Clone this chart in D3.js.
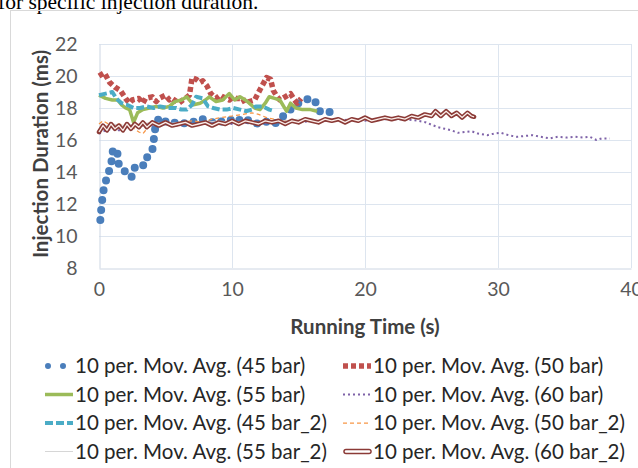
<!DOCTYPE html>
<html>
<head>
<meta charset="utf-8">
<script src="https://cdn.jsdelivr.net/npm/d3@7"></script>
<style>
  body { margin: 0; background: #fff; }
  svg { display: block; }
</style>
</head>
<body>
<div id="chart"></div>
<script>
// series names, in Excel drawing order
var seriesNames = [
    "10 per. Mov. Avg. (45 bar)", "10 per. Mov. Avg. (50 bar)",
    "10 per. Mov. Avg. (55 bar)", "10 per. Mov. Avg. (60 bar)",
    "10 per. Mov. Avg. (45 bar_2)", "10 per. Mov. Avg. (50 bar_2)",
    "10 per. Mov. Avg. (55 bar_2)", "10 per. Mov. Avg. (60 bar_2)"
];

var xTicks = [0, 10, 20, 30, 40];
var yTicks = [8, 10, 12, 14, 16, 18, 20, 22];

// [running time (s), injection duration (ms)]
var bar45 = [[0.1,11.0],[0.2,12.0],[0.35,12.9],[0.6,13.7],[0.9,14.4],[1.05,15.4],[1.35,15.4],[1.5,14.4],
    [1.9,14.1],[2.2,13.7],[2.5,13.7],[2.7,14.3],[3.1,14.5],[3.4,14.4],[3.6,14.9],[3.9,15.2],[4.1,15.6],
    [4.15,16.5],[4.5,17.4],[4.9,17.2],[5.3,17.0],[5.8,17.1],[6.3,17.0],[6.8,17.2],[7.3,17.1],[7.8,17.3],
    [8.3,17.2],[8.8,17.0],[9.3,17.2],[9.8,17.3],[10.3,17.1],[10.8,17.4],[11.3,17.2],[11.8,17.0],[12.3,17.2],
    [12.8,17.1],[13.2,17.0],[13.6,17.3],[14.0,17.6],[14.4,17.9],[15.0,18.3],[15.5,18.5],[15.9,18.6],
    [16.2,18.5],[16.6,17.8],[17.0,17.7],[17.6,17.8]];

var bar50 = [[0,20.0],[0.4,20.2],[0.8,19.6],[1.2,19.3],[1.6,19.1],[2.0,18.6],[2.3,18.3],[2.5,18.5],[3.0,18.6],
    [3.3,18.3],[3.5,18.6],[4.0,18.7],[4.3,18.4],[4.5,18.6],[5.0,18.8],[5.3,18.5],[5.5,18.6],[6.0,18.3],
    [6.3,18.5],[6.5,18.6],[6.8,18.8],[7.0,19.9],[7.3,19.8],[7.6,19.6],[7.8,19.7],[8.1,19.4],[8.4,18.9],
    [8.8,18.6],[9.1,18.8],[9.3,18.7],[9.8,18.5],[10.1,18.7],[10.3,18.6],[10.8,18.6],[11.0,18.3],
    [11.3,18.4],[11.7,18.5],[12.2,19.3],[12.6,19.9],[12.9,19.8],[13.1,19.1],[13.4,18.7],[13.6,18.5],
    [14.0,18.7],[14.4,18.9],[14.7,18.5],[14.9,18.3],[15.2,18.6]];

var bar55 = [[0,18.8],[0.5,18.6],[1.0,18.5],[1.4,18.5],[1.7,18.2],[2.0,18.0],[2.3,17.9],[2.6,17.1],
    [2.9,17.7],[3.3,17.9],[3.8,18.0],[4.3,18.1],[4.8,18.0],[5.3,18.1],[5.7,18.4],[6.2,18.5],[6.6,18.7],
    [7.1,18.2],[7.6,18.3],[8.0,18.5],[8.3,18.7],[8.8,18.4],[9.3,18.5],[9.8,18.9],[10.2,18.5],[10.6,18.7],
    [11.0,18.5],[11.3,18.3],[11.7,18.0],[12.1,17.9],[12.5,18.3],[12.8,18.7],[13.2,18.6],[13.6,18.5],
    [14.1,17.8],[14.4,18.3],[14.8,18.0],[15.3,17.9],[15.9,17.9],[16.4,17.8]];

var bar60 = [[0,16.4],[0.5,16.6],[1,16.7],[1.5,16.6],[2,16.8],[2.5,16.9],[3,16.8],[3.5,17.0],[4,16.9],
    [5,17.0],[6,16.9],[7,17.0],[8,17.0],[9,17.1],[10,17.0],[11,17.1],[12,17.0],[13,17.1],[14,17.2],
    [15,17.1],[16,17.2],[17,17.2],[18,17.2],[19,17.3],[20,17.2],[21,17.3],[22,17.3],[23,17.3],[24,17.2],
    [24.6,17.1],[25,16.95],[25.5,16.8],[26,16.7],[26.5,16.6],[27,16.45],[27.5,16.5],[28,16.55],[28.5,16.4],
    [29.2,16.3],[29.7,16.4],[30.2,16.45],[30.8,16.3],[31.4,16.2],[32,16.25],[32.6,16.3],[33.2,16.2],
    [33.9,16.1],[34.5,16.2],[35.2,16.15],[35.8,16.2],[36.4,16.15],[36.9,16.2],[37.4,16.0],[37.8,16.1],
    [38.4,16.1]];

var bar45b = [[0,18.8],[0.5,18.9],[1.0,19.0],[1.3,18.6],[1.7,18.3],[2.1,18.2],[2.6,18.0],[3.1,18.0],
    [3.6,18.1],[4.1,18.0],[4.6,18.1],[5.2,18.0],[5.8,18.0],[6.2,17.9],[6.6,17.9],[7.0,18.2],[7.3,18.7],
    [7.8,18.6],[8.2,18.1],[8.6,18.0],[9.1,17.9],[9.6,17.9],[10.1,18.0],[10.6,17.9],[11.1,17.8],[11.5,17.9],
    [11.8,18.1],[12.3,18.1],[12.8,17.9],[13.2,17.8]];

var bar50b = [[0,17.0],[0.3,17.2],[0.7,17.0],[1.1,16.9],[1.5,17.0],[2.0,16.9],[2.5,16.8],[3.0,16.5],
    [3.3,16.4],[3.7,16.8],[4.2,17.0],[4.8,17.1],[5.5,17.0],[6.2,17.1],[7,17.2],[7.8,17.1],[8.5,17.3],
    [9.2,17.4],[10,17.5],[10.8,17.6],[11.5,17.7],[12.0,17.6],[12.6,17.4],[13.2,17.3],[14,17.2],[14.8,17.2]];

var bar55b = [[0,16.8],[1,17.0],[2,16.9],[3,17.0],[4,17.1],[5,17.0],[6,17.1],[7,17.0],[8,17.1],
    [9,17.2],[10,17.1],[11,17.2],[12,17.1],[13,17.2],[14,17.2],[15,17.3],[16,17.2],[17,17.3]];

var bar60b = [[0,16.5],[0.3,16.9],[0.6,16.6],[0.9,17.0],[1.2,16.7],[1.5,16.9],[1.8,16.6],[2.1,17.0],
    [2.4,16.7],[2.7,17.0],[3.0,16.8],[3.3,17.1],[3.6,16.8],[4.0,17.1],[4.5,16.9],[5,17.1],[5.5,16.9],
    [6,17.0],[6.5,17.1],[7,16.9],[7.5,17.0],[8,17.1],[8.5,16.9],[9,17.1],[9.5,17.0],[10,17.2],[10.5,17.0],
    [11,17.2],[11.5,17.1],[12,17.0],[12.5,17.2],[13,17.1],[13.5,17.2],[14,17.0],[14.5,17.2],[15,17.1],
    [15.5,17.3],[16,17.2],[16.5,17.1],[17,17.3],[17.5,17.2],[18,17.3],[18.5,17.1],[19,17.3],[19.5,17.2],
    [20,17.4],[20.5,17.2],[21,17.3],[21.5,17.4],[22,17.3],[22.5,17.4],[23,17.3],[23.5,17.5],[24,17.4],
    [24.5,17.6],[25,17.5],[25.3,17.8],[25.7,17.5],[26.1,17.8],[26.5,17.5],[26.9,17.7],[27.3,17.4],
    [27.7,17.7],[28.0,17.5],[28.2,17.45]];

var seriesData = [bar45, bar50, bar55, bar60, bar45b, bar50b, bar55b, bar60b];

// line styles per series
var styles = [
    { color: "#4a7ebb", width: 8, dash: "0,10", cap: "round" },
    { color: "#c0504d", width: 5.5, dash: "5,3", cap: "butt" },
    { color: "#9bbb59", width: 3.5, dash: null, cap: "butt" },
    { color: "#7e62a8", width: 2, dash: "2,3", cap: "butt" },
    { color: "#4bacc6", width: 4, dash: "8,3", cap: "butt" },
    { color: "#f79646", width: 1.25, dash: "4,3", cap: "butt" },
    { color: "#d6d6d6", width: 1, dash: null, cap: "butt" },
    { color: "#8b3a36", width: 4.5, dash: null, cap: "round", inner: "#fbeeea" }
];

var width = 638, height = 468;
var margin = { left: 99, right: 7, top: 44, bottom: 200 };
var font = "Lato, sans-serif";

var svg = d3.select("#chart")
    .append("svg")
    .attr("width", width)
    .attr("height", height);

// caption text cut off above the chart
svg.append("text")
    .attr("x", -2)
    .attr("y", 9)
    .style("font-family", "Liberation Serif, serif")
    .style("font-size", "21.5px")
    .attr("fill", "#000")
    .text("for specific injection duration.");

// chart area border
svg.append("rect")
    .attr("x", 10.5).attr("y", 10.5)
    .attr("width", 700).attr("height", 500)
    .attr("fill", "none")
    .attr("stroke", "#d9d9d9");

var x = d3.scaleLinear().domain([0, 40]).range([margin.left, width - margin.right]);
var y = d3.scaleLinear().domain([8, 22]).range([height - margin.bottom, margin.top]);

// gridlines
svg.append("g")
    .selectAll("line.h")
    .data(yTicks.slice(1))
    .enter()
    .append("line")
    .attr("x1", x(0)).attr("x2", x(40))
    .attr("y1", function(d) { return Math.round(y(d)) + 0.5; })
    .attr("y2", function(d) { return Math.round(y(d)) + 0.5; })
    .attr("stroke", "#dde5ef");

svg.append("g")
    .selectAll("line.v")
    .data(xTicks.slice(1))
    .enter()
    .append("line")
    .attr("y1", y(8)).attr("y2", y(22))
    .attr("x1", function(d) { return Math.round(x(d)) + 0.5; })
    .attr("x2", function(d) { return Math.round(x(d)) + 0.5; })
    .attr("stroke", "#dde5ef");

// axes
var xAxis = svg.append("g")
    .attr("transform", "translate(0," + (Math.round(y(8)) + 0.5) + ")")
    .call(d3.axisBottom(x).tickValues(xTicks).tickSize(0).tickPadding(14));
var yAxis = svg.append("g")
    .attr("transform", "translate(" + (Math.round(x(0)) + 0.5) + ",0)")
    .call(d3.axisLeft(y).tickValues(yTicks).tickSize(0).tickPadding(22));

[xAxis, yAxis].forEach(function(a) {
    a.select(".domain").attr("stroke", "#cdd6e3");
    a.selectAll("text")
        .style("font-family", font)
        .style("font-size", "19.5px")
        .attr("fill", "#595959");
});

// axis titles
svg.append("text")
    .attr("x", 365).attr("y", 334)
    .attr("text-anchor", "middle")
    .style("font-family", font)
    .style("font-size", "20.5px")
    .style("font-weight", "bold")
    .attr("fill", "#404040")
    .text("Running Time (s)");

svg.append("text")
    .attr("transform", "translate(48,154) rotate(-90)")
    .attr("text-anchor", "middle")
    .style("font-family", font)
    .style("font-size", "20.5px")
    .style("font-weight", "bold")
    .attr("fill", "#404040")
    .text("Injection Duration (ms)");

// series
var line = d3.line()
    .x(function(d) { return x(d[0]); })
    .y(function(d) { return y(d[1]); });

var plot = svg.append("g");

function styled(sel, s) {
    sel.attr("fill", "none")
        .attr("stroke", s.color)
        .attr("stroke-width", s.width)
        .attr("stroke-linecap", s.cap)
        .attr("stroke-linejoin", "round");
    if (s.dash) sel.attr("stroke-dasharray", s.dash);
    return sel;
}

seriesData.forEach(function(data, i) {
    var s = styles[i];
    styled(plot.append("path").attr("d", line(data)), s);
    if (s.inner) {
        plot.append("path")
            .attr("d", line(data))
            .attr("fill", "none")
            .attr("stroke", s.inner)
            .attr("stroke-width", 1.3)
            .attr("stroke-linejoin", "round");
    }
});

// legend
var legend = svg.append("g");
seriesNames.forEach(function(name, i) {
    var col = i % 2, row = Math.floor(i / 2);
    var lx = col === 0 ? 45 : 343;
    var ly = 366 + row * 28.5;
    var s = styles[i];
    var g = legend.append("g").attr("transform", "translate(" + lx + "," + ly + ")");
    var seg = g.append("line")
        .attr("x1", s.cap === "round" && !s.inner ? 3 : 0)
        .attr("x2", 28)
        .attr("y1", 0).attr("y2", 0);
    styled(seg, s);
    if (i === 0) seg.attr("stroke-width", 6).attr("stroke-dasharray", "0,15");
    if (s.inner) {
        seg.attr("x1", 3).attr("x2", 26).attr("stroke-width", 5.5);
        g.append("line").attr("x1", 3).attr("x2", 26).attr("y1", 0).attr("y2", 0)
            .attr("stroke", "#fff").attr("stroke-width", 2.5).attr("stroke-linecap", "round");
    }
    g.append("text")
        .attr("x", 30)
        .attr("y", 0)
        .attr("dy", "0.35em")
        .style("font-family", font)
        .style("font-size", "20.5px")
        .attr("fill", "#262626")
        .text(name);
});
</script>
</body>
</html>
